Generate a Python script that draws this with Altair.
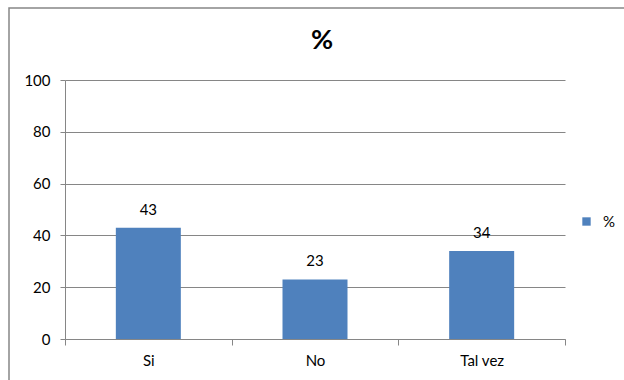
import altair as alt
import pandas as pd

categories = ["Si", "No", "Tal vez"]
values = [43, 23, 34]
series = ["%", "%", "%"]
y_ticks = [0, 20, 40, 60, 80, 100]
title_text = "%"

df = pd.DataFrame({"cat": categories, "val": values, "serie": series})

FONT = "Lato"
GRAY = "#868686"
BLUE = "#4F81BD"

x = alt.X(
    "cat:N", sort=categories, title=None,
    scale=alt.Scale(paddingInner=0, paddingOuter=0),
    axis=alt.Axis(tickBand="extent", labelAngle=0, domainColor=GRAY, tickColor=GRAY,
                  tickSize=6, labelPadding=8, labelFontSize=15, labelColor="black",
                  labelFont=FONT, grid=False),
)
y = alt.Y(
    "val:Q", title=None,
    scale=alt.Scale(domain=[0, 100], nice=False),
    axis=alt.Axis(values=y_ticks, domainColor=GRAY, tickColor=GRAY, tickSize=5,
                  labelPadding=10, labelFontSize=15, labelColor="black", labelFont=FONT,
                  grid=True, gridColor=GRAY),
)

base = alt.Chart(df)

bars = base.mark_bar(size=65).encode(
    x=x, y=y,
    color=alt.Color("serie:N", scale=alt.Scale(range=[BLUE]),
                    legend=alt.Legend(title=None, orient="none", legendX=514, legendY=134,
                                      symbolType="square", symbolSize=70, labelOffset=9,
                                      labelFontSize=15, labelFont=FONT, labelColor="black")),
)

labels = base.mark_text(dy=-10, baseline="bottom", fontSize=15, font=FONT, color="black").encode(
    x=alt.X("cat:N", sort=categories), y=alt.Y("val:Q"), text="val:Q"
)

border = alt.Chart(alt.Data(values=[{}])).mark_rect(
    fill="transparent", stroke=GRAY, strokeWidth=1.5, clip=False
).encode(
    x=alt.value(-56), y=alt.value(-72), x2=alt.value(620), y2=alt.value(330)
)

title = alt.Chart(alt.Data(values=[{"t": title_text}])).mark_text(
    fontSize=27, fontWeight="bold", font=FONT, color="black", baseline="middle", align="center"
).encode(
    x=alt.value(257), y=alt.value(-39), text="t:N"
)

chart = alt.layer(border, bars, labels, title).properties(
    width=500, height=259,
    padding={"left": 65, "top": 80, "right": 59, "bottom": 41},
    autosize="none",
).configure_view(strokeWidth=0)

chart.save("out.html", embed_options={"renderer": "svg", "actions": False})
